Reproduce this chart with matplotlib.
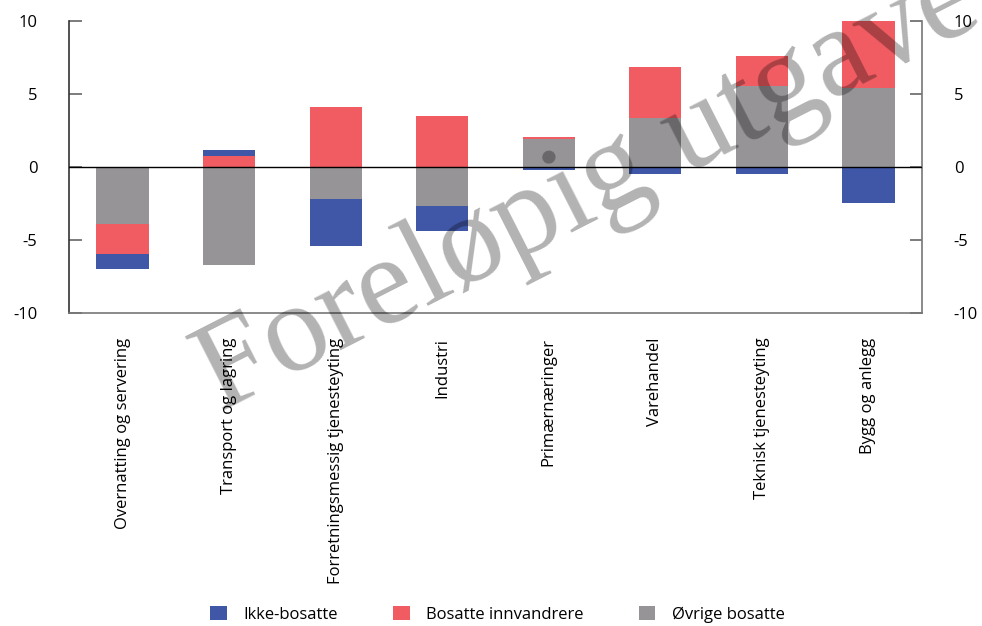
import matplotlib
matplotlib.use("Agg")
import matplotlib.pyplot as plt
from matplotlib.patches import Patch
import numpy as np

plt.rcParams['font.family'] = ['Open Sans', 'DejaVu Sans']

categories = [
    "Overnatting og servering",
    "Transport og lagring",
    "Forretningsmessig tjenesteyting",
    "Industri",
    "Primærnæringer",
    "Varehandel",
    "Teknisk tjenesteyting",
    "Bygg og anlegg",
]
ikke_bosatte = [-1.0, 0.4, -3.2, -1.7, -0.2, -0.5, -0.5, -2.5]
bosatte_innvandrere = [-2.1, 0.75, 4.1, 3.5, 0.15, 3.5, 2.05, 4.8]
ovrige_bosatte = [-3.9, -6.7, -2.2, -2.7, 1.9, 3.35, 5.55, 5.4]
yticks = [-10, -5, 0, 5, 10]

series = [
    ("Ikke-bosatte", ikke_bosatte, "#4056A7"),
    ("Bosatte innvandrere", bosatte_innvandrere, "#F05C62"),
    ("Øvrige bosatte", ovrige_bosatte, "#969497"),
]

fig = plt.figure(figsize=(9.82, 6.26), dpi=100)
ax = fig.add_axes([0.0706, 0.5005, 0.868, 0.4665])

x = np.arange(len(categories))
width = 0.49

# stack positives upward and negatives downward; grey first, then red, then blue
pos_base = np.zeros(len(categories))
neg_base = np.zeros(len(categories))
for name, vals, col in [series[2], series[1], series[0]]:
    v = np.array(vals, dtype=float)
    bottoms = np.where(v >= 0, pos_base, neg_base)
    ax.bar(x, v, width, bottom=bottoms, color=col, linewidth=0, zorder=2)
    pos_base = pos_base + np.where(v >= 0, v, 0)
    neg_base = neg_base + np.where(v < 0, v, 0)

ax.axhline(0, color="black", linewidth=1.0, zorder=3)

ax.set_xlim(-0.5, len(categories) - 0.5)
ax.set_ylim(-10, 10)
ax.set_yticks(yticks)
ax.set_yticklabels([str(t) for t in yticks])
ax.set_xticks(x)
ax.set_xticklabels(categories, rotation=90, va="top", ha="center")

ax.tick_params(axis="y", direction="in", length=9, width=1.2, color="#666666",
               left=True, right=True, labelleft=True, labelright=True,
               labelsize=12, pad=23)
ax.tick_params(axis="x", length=0, labelsize=12, pad=18)

ax.spines["top"].set_visible(False)
ax.spines["left"].set_color("#333333")
ax.spines["right"].set_color("#777777")
ax.spines["bottom"].set_color("#777777")
for s in ["left", "right", "bottom"]:
    ax.spines[s].set_linewidth(1.2)

handles = [Patch(facecolor=c, edgecolor="none", label=n) for n, _, c in series]
fig.legend(handles=handles, loc="center", bbox_to_anchor=(0.5066, 0.019),
           ncol=3, frameon=False, fontsize=12, handlelength=1.0,
           handleheight=1.0, handletextpad=1.0, columnspacing=3.3)

fig.text(0.224, 0.342, "Foreløpig utgave", fontsize=91,
         family="Liberation Serif", color="black", alpha=0.3,
         rotation=27, rotation_mode="anchor", ha="left", va="baseline",
         zorder=10)

fig.savefig("out.png", dpi=100)
